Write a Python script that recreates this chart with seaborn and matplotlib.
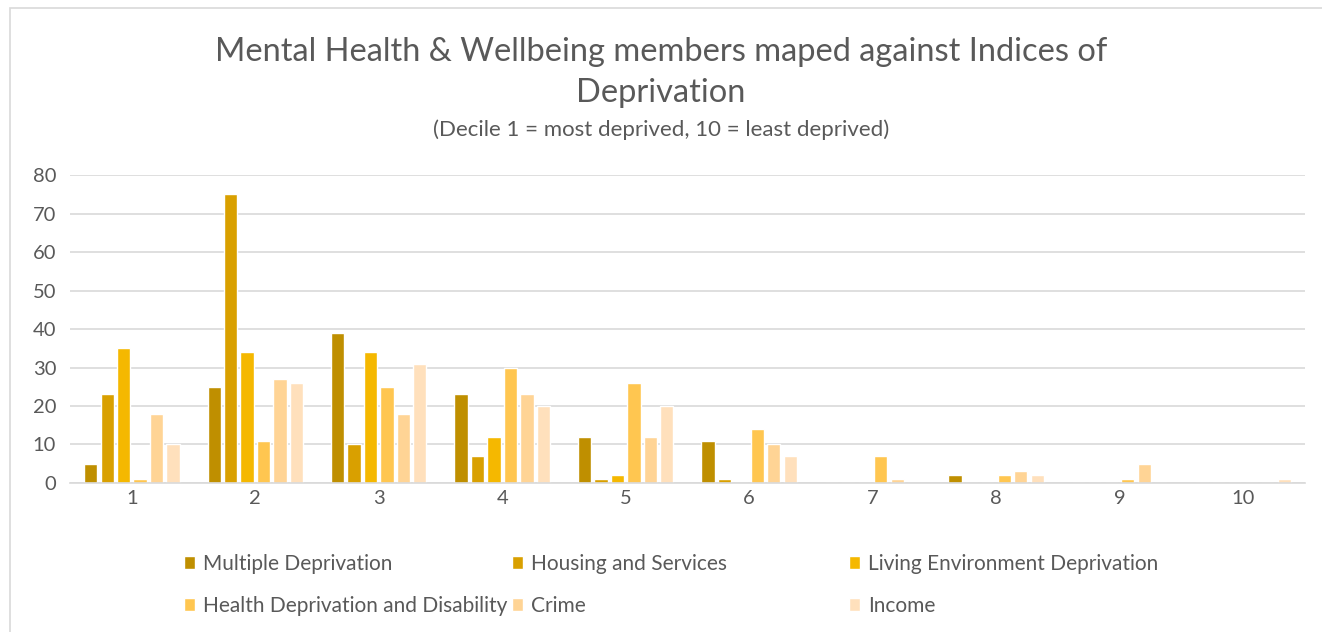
import pandas as pd
import seaborn as sns
import matplotlib.pyplot as plt
from matplotlib.patches import Rectangle

# values, one list per index, deciles 1..10
deciles = ["1", "2", "3", "4", "5", "6", "7", "8", "9", "10"]
multiple_deprivation = [5, 25, 39, 23, 12, 11, 0, 2, 0, 0]
housing_services = [23, 75, 10, 7, 1, 1, 0, 0, 0, 0]
living_environment = [35, 34, 34, 12, 2, 0, 0, 0, 0, 0]
health_disability = [1, 11, 25, 30, 26, 14, 7, 2, 1, 0]
crime = [18, 27, 18, 23, 12, 10, 1, 3, 5, 0]
income = [10, 26, 31, 20, 20, 7, 0, 2, 0, 1]

series_names = ["Multiple Deprivation", "Housing and Services", "Living Environment Deprivation",
                "Health Deprivation and Disability", "Crime", "Income"]
series_values = [multiple_deprivation, housing_services, living_environment,
                 health_disability, crime, income]
colors = ["#BF8F00", "#D9A000", "#F5B800", "#FFC650", "#FFD495", "#FFE0BC"]

rows = []
for name, vals in zip(series_names, series_values):
    for d, v in zip(deciles, vals):
        rows.append({"Decile": d, "Index": name, "Members": v})
df = pd.DataFrame(rows)

sns.set_theme(style="white")
plt.rcParams["font.family"] = ["Lato", "DejaVu Sans"]
grey = "#595959"

fig = plt.figure(figsize=(13.22, 6.32), dpi=100)
ax = fig.add_axes([0.053, 0.2358, 0.934, 0.4872])

sns.barplot(data=df, x="Decile", y="Members", hue="Index", order=deciles,
            hue_order=series_names, palette=colors, width=0.8, gap=0.2,
            saturation=1, ax=ax)

ax.set_ylim(0, 80)
ax.set_yticks(range(0, 81, 10))
ax.set_xlim(-0.5, 9.5)
ax.yaxis.grid(True, color="#D9D9D9", linewidth=1.2)
ax.set_axisbelow(True)
for side in ["top", "right", "left"]:
    ax.spines[side].set_visible(False)
ax.spines["bottom"].set_color("#D9D9D9")
ax.spines["bottom"].set_linewidth(1.2)
ax.tick_params(axis="both", length=0, labelsize=14.5, labelcolor=grey)
ax.tick_params(axis="x", pad=5)
ax.tick_params(axis="y", pad=10)
ax.set_xlabel("")
ax.set_ylabel("")

# legend laid out like the original: 3 columns, 2 rows
handles, labels = ax.get_legend_handles_labels()
ax.get_legend().remove()
col_x = [184 / 1322, 512 / 1322, 849 / 1322]
for i, x in enumerate(col_x):
    fig.legend([handles[i], handles[i + 3]], [labels[i], labels[i + 3]],
               loc="upper left", bbox_to_anchor=(x, 1 - 554 / 632), ncol=1,
               frameon=False, fontsize=15, labelcolor=grey,
               handlelength=0.55, handleheight=0.55, handletextpad=0.35,
               labelspacing=1.05, borderaxespad=0, borderpad=0)

fig.text(0.5, 1 - 52 / 632, "Mental Health & Wellbeing members maped against Indices of",
         ha="center", va="center", fontsize=23.5, color=grey)
fig.text(0.5, 1 - 93 / 632, "Deprivation", ha="center", va="center", fontsize=23.5, color=grey)
fig.text(0.5, 1 - 130 / 632, "(Decile 1 = most deprived, 10 = least deprived)",
         ha="center", va="center", fontsize=16, color=grey)

# chart area border (only top and left visible in the crop)
fig.add_artist(Rectangle((10 / 1322, -0.1), 1.2, 0.1 + 1 - 8 / 632, transform=fig.transFigure,
                         fill=False, edgecolor="#D9D9D9", linewidth=1.2))

fig.savefig("out.png", dpi=100)
